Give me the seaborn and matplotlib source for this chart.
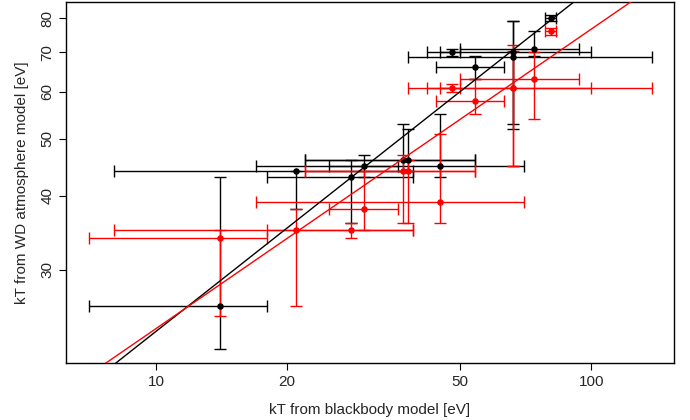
import numpy as np
import matplotlib
matplotlib.use("Agg")
import matplotlib.pyplot as plt
import seaborn as sns
from matplotlib.ticker import FixedLocator, NullLocator, FixedFormatter

# Blackbody temperatures (eV) and their asymmetric ranges
kt_bb = [14, 21, 28, 30, 37, 38, 45, 48, 54, 66, 66, 74, 81]
kt_bb_lo = [7, 8, 18, 25, 22, 22, 17, 45, 44, 38, 42, 50, 78.5]
kt_bb_hi = [18, 39, 39, 36, 54, 54, 70, 50, 63, 138, 100, 94, 83]

# WD atmosphere fit, first model (black)
kt_wd1 = [26, 44, 43, 45, 46, 46, 45, 70, 66, 68.7, 70, 71, 80]
kt_wd1_lo = [22, 38, 36, 43, 44, 44, 43, 69, 63, 52, 53, 69, 79]
kt_wd1_hi = [43, 44, 46, 47, 53, 52, 55, 71, 69, 79, 79, 76, 81]

# WD atmosphere fit, second model (red)
kt_wd2 = [34, 35, 35, 38, 44, 44, 39, 61, 58, 61, 61, 63, 76]
kt_wd2_lo = [25, 26, 34, 35, 36, 36, 36, 60, 55, 45, 45, 54, 75]
kt_wd2_hi = [35, 38, 36, 44, 47, 46, 51, 62, 63, 72, 70.5, 70, 77]

# Power-law fits  kT_wd = A * kT_bb ** B
fit_amp = [6.19, 7.42]
fit_index = [0.581, 0.507]
series_colors = ["black", "red"]

x_ticks = [10, 20, 50, 100]
y_ticks = [30, 40, 50, 60, 70, 80]

sns.set_theme(style="white")
plt.rcParams["font.family"] = ["Liberation Sans", "DejaVu Sans"]

fig = plt.figure(figsize=(6.9, 4.2), dpi=100)
ax = fig.add_axes([66 / 690, 57 / 420, 608 / 690, 361 / 420])

bb = np.array(kt_bb, float)
xerr = [bb - np.array(kt_bb_lo), np.array(kt_bb_hi) - bb]

for yv, ylo, yhi, col in [(kt_wd1, kt_wd1_lo, kt_wd1_hi, "black"),
                          (kt_wd2, kt_wd2_lo, kt_wd2_hi, "red")]:
    y = np.array(yv, float)
    yerr = [y - np.array(ylo), np.array(yhi) - y]
    ax.errorbar(bb, y, xerr=xerr, yerr=yerr, fmt="none", ecolor=col,
                elinewidth=1.0, capsize=4.3, capthick=1.0, zorder=2)
    sns.scatterplot(x=bb, y=y, color=col, s=22, linewidth=0, ax=ax, zorder=3)

xs = np.logspace(np.log10(5), np.log10(200), 200)
for a, b, col in zip(fit_amp, fit_index, series_colors):
    ax.plot(xs, a * xs ** b, color=col, lw=1.0, zorder=4)

ax.set_xscale("log")
ax.set_yscale("log")
ax.set_xlim(6.21, 155)
ax.set_ylim(20.85, 85.2)

ax.xaxis.set_major_locator(FixedLocator(x_ticks))
ax.xaxis.set_major_formatter(FixedFormatter([str(t) for t in x_ticks]))
ax.xaxis.set_minor_locator(NullLocator())
ax.yaxis.set_major_locator(FixedLocator(y_ticks))
ax.yaxis.set_major_formatter(FixedFormatter([str(t) for t in y_ticks]))
ax.yaxis.set_minor_locator(NullLocator())

ax.tick_params(axis="both", which="major", length=5, width=0.8, color="black",
               labelsize=11, direction="out", bottom=True, left=True)
ax.tick_params(axis="y", labelrotation=90)
for lab in ax.get_yticklabels():
    lab.set_va("center")
for s in ax.spines.values():
    s.set_color("black")
    s.set_linewidth(1.0)

ax.set_xlabel("kT from blackbody model [eV]", fontsize=11, labelpad=10)
ax.set_ylabel("kT from WD atmosphere model [eV]", fontsize=11, labelpad=8)

fig.savefig("out.png", dpi=100)
